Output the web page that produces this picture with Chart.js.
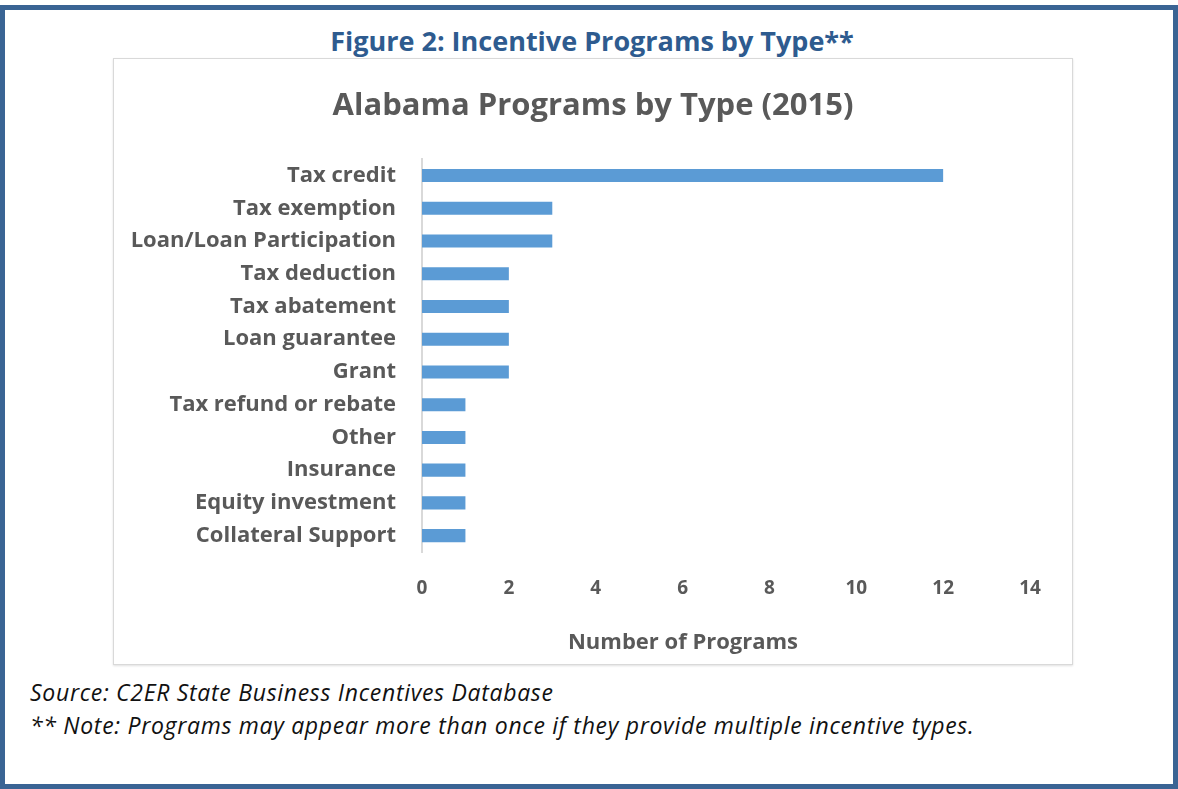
<!DOCTYPE html>
<html>
<head>
<meta charset="utf-8">
<script src="https://cdn.jsdelivr.net/npm/chart.js@4"></script>
<style>
  html, body { margin: 0; padding: 0; background: #fff; }
  body { width: 1178px; height: 789px; position: relative; overflow: hidden; font-family: "Open Sans", Lato, sans-serif; }
  #frame { position: absolute; left: 0; top: 5px; width: 1168px; height: 774px; border: 5px solid #3a6494; }
  #fig-title { position: absolute; left: 0; width: 1184px; top: 23px; text-align: center; color: #2e5b8f; font-weight: bold; font-size: 27px; line-height: 36px; }
  #chart-box { position: absolute; left: 113px; top: 58px; width: 958px; height: 605px; border: 1px solid #d9d9d9; box-shadow: 0 1px 2px rgba(0,0,0,0.12); }
  #chart-box canvas { position: absolute; left: 0; top: 0; }
  .note { position: absolute; left: 30px; font-style: italic; font-size: 23px; color: #111; line-height: 28px; letter-spacing: 0.7px; }
</style>
</head>
<body>
<div id="frame"></div>
<div id="fig-title">Figure 2: Incentive Programs by Type**</div>
<div id="chart-box"><canvas id="bar-chart" width="958" height="605"></canvas></div>
<div class="note" style="top: 678px;">Source: C2ER State Business Incentives Database</div>
<div class="note" style="top: 711px;">** Note: Programs may appear more than once if they provide multiple incentive types.</div>
<script>
const categories = ['Tax credit', 'Tax exemption', 'Loan/Loan Participation', 'Tax deduction', 'Tax abatement',
  'Loan guarantee', 'Grant', 'Tax refund or rebate', 'Other', 'Insurance', 'Equity investment', 'Collateral Support'];
const programCounts = [12, 3, 3, 2, 2, 2, 2, 1, 1, 1, 1, 1];
const xTicks = [0, 2, 4, 6, 8, 10, 12, 14];
const xAxisTitle = 'Number of Programs';

const gray = '#595959';
const fontFamily = '"Open Sans", Lato, sans-serif';

// axis title sits left of the plot centre, like the original
const axisTitlePlugin = {
  id: 'axisTitle',
  afterDraw(chart) {
    const c = chart.ctx;
    c.save();
    c.font = 'bold 22px ' + fontFamily;
    c.fillStyle = gray;
    c.textAlign = 'center';
    c.textBaseline = 'middle';
    c.fillText(xAxisTitle, (chart.chartArea.left + chart.chartArea.right) / 2 - 43, chart.chartArea.bottom + 91);
    c.restore();
  }
};

const ctx = document.getElementById('bar-chart').getContext('2d');
new Chart(ctx, {
  type: 'bar',
  data: {
    labels: categories,
    datasets: [{
      label: 'Number of Programs',
      data: programCounts,
      backgroundColor: '#5b9bd5',
      borderWidth: 0,
      categoryPercentage: 0.8,
      barPercentage: 0.5
    }]
  },
  options: {
    indexAxis: 'y',
    responsive: false,
    animation: false,
    layout: { padding: 0 },
    plugins: {
      legend: { display: false },
      tooltip: { enabled: false },
      title: {
        display: true,
        text: 'Alabama Programs by Type (2015)',
        color: gray,
        font: { family: fontFamily, size: 31, weight: 'bold', lineHeight: 1.2 },
        padding: { top: 29, bottom: 34 }
      }
    },
    scales: {
      x: {
        min: 0,
        max: 14,
        afterBuildTicks: scale => { scale.ticks = xTicks.map(v => ({ value: v })); },
        afterFit: scale => { scale.height = 112; },
        grid: { display: false, drawTicks: false },
        border: { display: false },
        ticks: { color: gray, padding: 25, font: { family: fontFamily, size: 19, weight: 'bold' } }
      },
      y: {
        afterFit: scale => { scale.width = 308; },
        grid: { display: false, drawTicks: false },
        border: { display: true, color: '#d9d9d9', width: 2 },
        ticks: { color: gray, padding: 26, font: { family: fontFamily, size: 22, weight: 'bold' } }
      },
      // empty right-hand strip so the title stays centred on the whole box
      spacer: {
        type: 'category',
        position: 'right',
        afterFit: scale => { scale.width = 42; },
        grid: { display: false, drawTicks: false },
        border: { display: false },
        ticks: { display: false }
      }
    }
  },
  plugins: [axisTitlePlugin]
});
</script>
</body>
</html>
